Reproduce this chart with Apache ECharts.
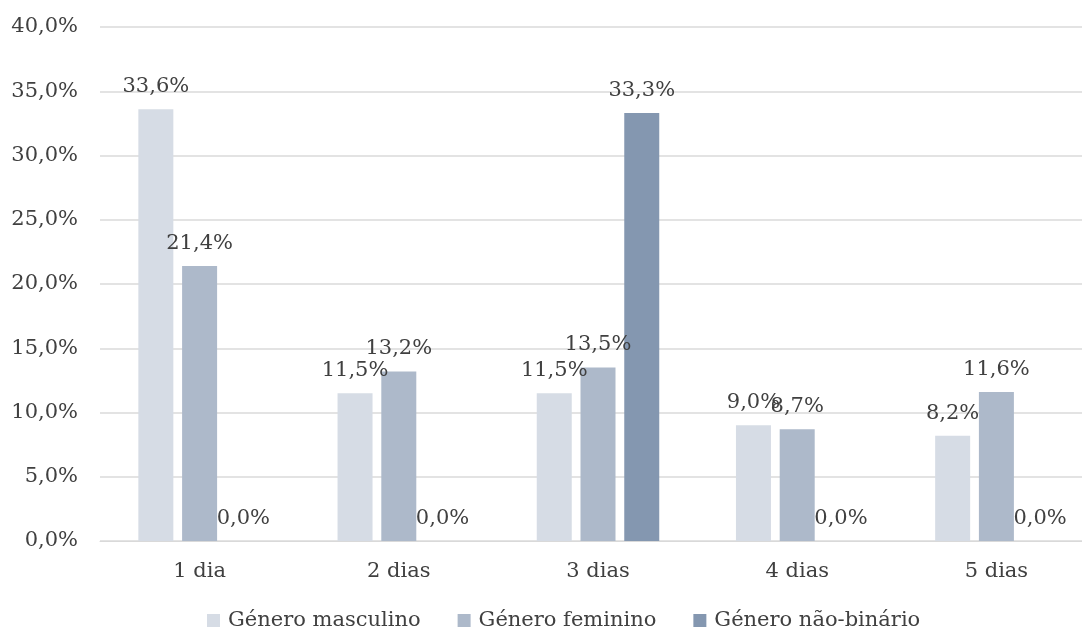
<!DOCTYPE html>
<html>
<head>
<meta charset="utf-8">
<script src="https://cdn.jsdelivr.net/npm/echarts@6/dist/echarts.min.js"></script>
<style>
  html, body { margin: 0; padding: 0; background: #fff; overflow: hidden; }
  #chart { width: 1096px; height: 630px; }
</style>
</head>
<body>
<div id="chart"></div>
<script>
var categories = ['1 dia', '2 dias', '3 dias', '4 dias', '5 dias']
var masculino = [33.6, 11.5, 11.5, 9.0, 8.2]
var feminino = [21.4, 13.2, 13.5, 8.7, 11.6]
var naoBinario = [0.0, 0.0, 33.3, 0.0, 0.0]
var seriesNames = ['Género masculino', 'Género feminino', 'Género não-binário']
var colors = ['#D6DCE5', '#ADB9CA', '#8497B0']

var font = 'DejaVu Serif'
var textColor = '#404040'

function pct(v) {
  return v.toFixed(1).replace('.', ',') + '%'
}

function barSeries(name, data, color) {
  return {
    name: name,
    type: 'bar',
    data: data,
    barWidth: 35,
    barGap: '25%',
    itemStyle: { color: color },
    label: {
      show: true,
      position: 'top',
      distance: 12,
      fontFamily: font,
      fontSize: 21,
      color: textColor,
      formatter: function (p) { return pct(p.value) }
    }
  }
}

var chart = echarts.init(document.getElementById('chart'))
chart.setOption({
  animation: false,
  textStyle: { fontFamily: font },
  grid: { left: 100, right: 0, top: 27, bottom: 89 },
  legend: {
    data: seriesNames,
    bottom: -6,
    left: 202,
    itemWidth: 13,
    itemHeight: 13,
    itemGap: 37,
    icon: 'rect',
    textStyle: { fontFamily: font, fontSize: 21, color: textColor, padding: [0, 0, 0, 3] }
  },
  xAxis: {
    type: 'category',
    data: categories,
    axisTick: { show: false },
    axisLine: { lineStyle: { color: '#d9d9d9', width: 1 } },
    axisLabel: { fontFamily: font, fontSize: 21, color: textColor, margin: 20 }
  },
  yAxis: {
    type: 'value',
    min: 0,
    max: 40,
    interval: 5,
    axisLine: { show: false },
    axisTick: { show: false },
    splitLine: { lineStyle: { color: '#e3e3e3', width: 2 } },
    axisLabel: {
      fontFamily: font,
      fontSize: 21,
      color: textColor,
      margin: 22,
      formatter: function (v) { return pct(v) }
    }
  },
  series: [
    barSeries(seriesNames[0], masculino, colors[0]),
    barSeries(seriesNames[1], feminino, colors[1]),
    barSeries(seriesNames[2], naoBinario, colors[2])
  ]
})
</script>
</body>
</html>
